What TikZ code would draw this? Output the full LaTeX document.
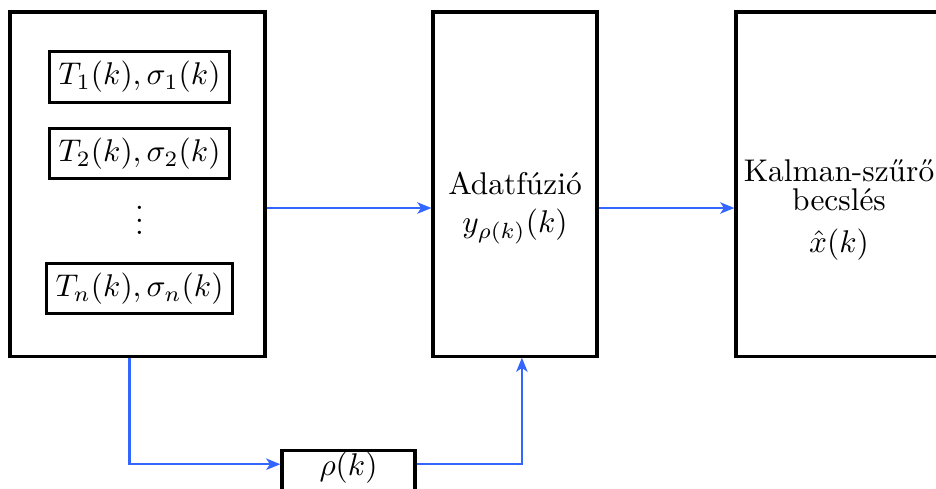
\documentclass[tikz,border=0pt]{standalone}
\usepackage{amsmath}
\usepackage{amssymb}
\usetikzlibrary{arrows.meta}

\definecolor{linkblue}{RGB}{51,102,255}

\tikzset{
    blockbox/.style = {draw, line width = 1pt, inner sep = 0pt},
    valbox/.style = {draw, line width = 1pt, inner sep = 3pt},
    link/.style = {color = linkblue, line width = .8pt, -{Stealth[length = 4.5pt, width = 3.6pt, inset = 1.2pt]}},
}

\begin{document}
\begin{tikzpicture}[x = .3185pt, y = -.3185pt]
        \useasboundingbox (0, 0) rectangle (936, 488);
        % blocks
        \node[blockbox, minimum width = 81.2pt, minimum height = 109.6pt] (src) at (137.5, 184) {};
        \node[blockbox, minimum width = 52.2pt, minimum height = 109.6pt] (fus) at (515, 184) {};
        \node[blockbox, minimum width = 65pt, minimum height = 109.6pt] (kal) at (838, 184) {};
        \node[align = center] (fustext) at (515, 208) {Adatfúzió\\ $y_{\rho(k)}(k)$};
        \node[align = center] (kaltext) at (839, 210) {Kalman-szűrő\\[-2.5pt] becslés\\[1.4pt] $\hat{x}(k)$};
        \node[blockbox, minimum width = 42.4pt, minimum height = 15.9pt, text height = 7.5pt, text depth = 7.5pt] (rho) at (348.5, 475.5) {$\rho(k)$};
        % measurements
        \node[valbox] (m1) at (139.5, 77) {$T_1(k), \sigma_1(k)$};
        \node[valbox] (m2) at (139.5, 153.5) {$T_2(k), \sigma_2(k)$};
        \node (dots) at (139.5, 211) {$\vdots$};
        \node[valbox] (mn) at (139.5, 288.5) {$T_n(k), \sigma_n(k)$};
        % connectors
        \draw[link] (src.east |- fustext) -- (fus.west |- fustext);
        \draw[link] (fus.east |- fustext) -- (kal.west |- fustext);
        \draw[link] ([xshift = -2.5pt]src.south) |- ([yshift = 3.6pt]rho.west);
        \draw[link] ([yshift = 3.6pt]rho.east) -| ([xshift = 2.2pt]fus.south);
    \end{tikzpicture}
\end{document}
